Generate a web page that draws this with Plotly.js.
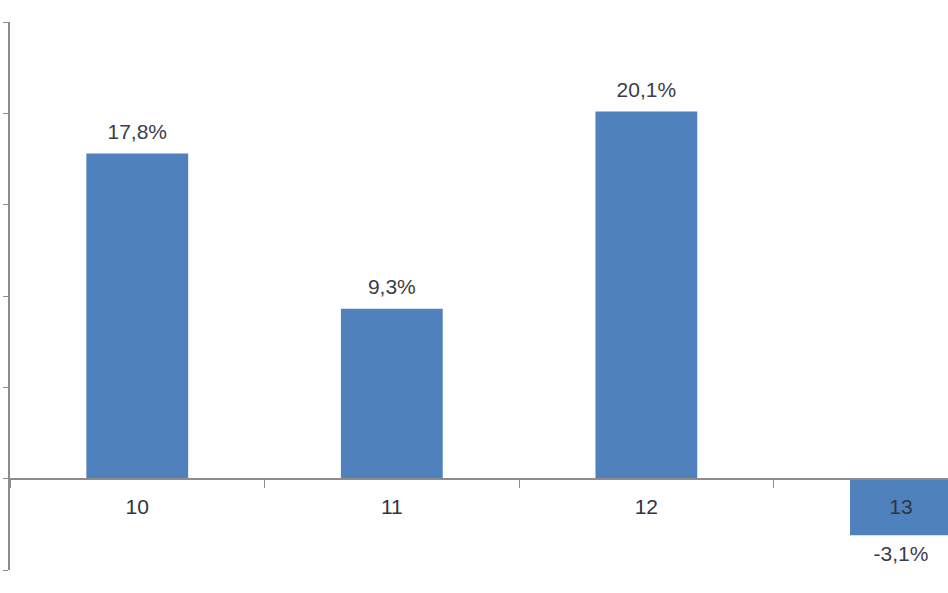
<!DOCTYPE html>
<html>
<head>
<meta charset="utf-8">
<script src="https://cdn.plot.ly/plotly-3.0.1.min.js"></script>
<style>html,body{margin:0;padding:0;background:#fff;}#chart{width:948px;height:593px;}</style>
</head>
<body>
<div id="chart"></div>
<script>
const categories = ["10", "11", "12", "13"];
const values = [17.8, 9.3, 20.1, -3.1];

const fmt = v => String(v).replace('.', ',') + '%';
const FONT = 'Liberation Sans, Arial, sans-serif';

const bars = {
  type: 'bar',
  x: categories,
  y: values,
  width: 0.4,
  marker: {color: '#4f81bd'},
  hoverinfo: 'none'
};

const labels = {
  type: 'scatter',
  mode: 'markers+text',
  x: categories,
  y: values,
  text: values.map(fmt),
  textposition: values.map(v => v >= 0 ? 'top center' : 'bottom center'),
  marker: {size: 14, opacity: 0, color: '#ffffff'},
  textfont: {family: FONT, size: 21, color: '#3a3d4a'},
  hoverinfo: 'none',
  cliponaxis: false
};

const layout = {
  width: 948,
  height: 593,
  margin: {l: 10, r: 0, t: 22, b: 23, pad: 0},
  paper_bgcolor: '#ffffff',
  plot_bgcolor: '#ffffff',
  showlegend: false,
  font: {family: FONT, size: 21, color: '#3a3d4a'},
  xaxis: {
    type: 'category',
    range: [-0.5, 3.185],
    anchor: 'free',
    position: 5 / 30,
    showline: true,
    linecolor: '#8c8c8c',
    linewidth: 2,
    ticks: 'outside',
    tickson: 'boundaries',
    ticklen: 8,
    tickcolor: '#8c8c8c',
    tickwidth: 1,
    ticklabelstandoff: 9,
    showgrid: false,
    zeroline: false,
    tickfont: {family: FONT, size: 21, color: '#2f3342'},
    fixedrange: true
  },
  yaxis: {
    range: [-5, 25],
    dtick: 5,
    tick0: 0,
    showticklabels: false,
    showline: true,
    linecolor: '#8c8c8c',
    linewidth: 2,
    ticks: 'outside',
    ticklen: 5,
    tickcolor: '#8c8c8c',
    showgrid: false,
    zeroline: false,
    fixedrange: true
  }
};

Plotly.newPlot('chart', [bars, labels], layout, {displayModeBar: false, staticPlot: true});
</script>
</body>
</html>
